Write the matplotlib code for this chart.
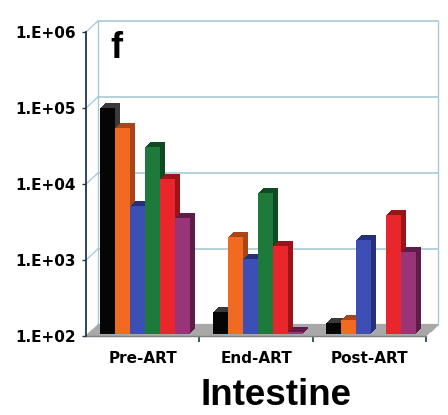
import numpy as np
import matplotlib
matplotlib.use("Agg")
import matplotlib.pyplot as plt
from matplotlib.transforms import offset_copy
from matplotlib.patches import ConnectionPatch

# Valores (escala log)
groups = ["Pre-ART", "End-ART", "Post-ART"]
black = [9.4e4, 1.95e2, 1.4e2]
orange = [5.1e4, 1.9e3, 1.55e2]
blue = [4.8e3, 9.7e2, 1.7e3]
green = [2.9e4, 7.2e3, np.nan]
red = [1.1e4, 1.45e3, 3.7e3]
purple = [3.4e3, 1.05e2, 1.2e3]

series = [black, orange, blue, green, red, purple]
face_colors = ["#050505", "#F26A21", "#3D4FB5", "#1D7A3A", "#E8262B", "#9A3478"]
side_colors = ["#3a3a3a", "#A8461A", "#24307A", "#0F4A22", "#9C1418", "#5E1C48"]

ytick_vals = [1e2, 1e3, 1e4, 1e5, 1e6]
ytick_labels = ["1.E+02", "1.E+03", "1.E+04", "1.E+05", "1.E+06"]

fig = plt.figure(figsize=(4.48, 4.15), dpi=100)
ax = fig.add_axes([86 / 448, 79 / 415, 340 / 448, 304 / 415])
ax.set_yscale("log")
ax.set_ylim(1e2, 1e6)
ax.set_xlim(-0.5, 2.5)
ax.patch.set_alpha(0)

grid_color = "#a9c9d9"
wall_dx, wall_dy = 12, 11
wall_t = offset_copy(ax.transData, fig=fig, x=wall_dx, y=wall_dy, units="dots")

# parede do fundo
for v in ytick_vals:
    ax.plot([-0.5, 2.5], [v, v], color=grid_color, lw=1.2, transform=wall_t,
            zorder=1, clip_on=False)
    con = ConnectionPatch(xyA=(-0.5, v), coordsA=ax.transData, xyB=(-0.5, v),
                          coordsB=wall_t, color=grid_color, lw=1.0, zorder=1)
    ax.add_artist(con)
ax.plot([-0.5, -0.5], [1e2, 1e6], color=grid_color, lw=1.0, transform=wall_t,
        zorder=1, clip_on=False)
ax.plot([2.5, 2.5], [1e2, 1e6], color=grid_color, lw=1.0, transform=wall_t,
        zorder=1, clip_on=False)

# piso
for k in range(0, wall_dx + 1):
    t = offset_copy(ax.transData, fig=fig, x=k, y=k * wall_dy / wall_dx, units="dots")
    ax.plot([-0.5, 2.5], [1e2, 1e2], color="#a8a8a8", lw=1.6, transform=t,
            zorder=2, solid_capstyle="butt", clip_on=False)
ax.plot([-0.5, 2.5], [1e2, 1e2], color="#808080", lw=1.0, zorder=2, clip_on=False)

# barras 3D
w = 0.132
x = np.arange(len(groups))
bar_dx, bar_dy = 2, 2
depth = 5
for i, vals in enumerate(series):
    xs = x + (i - 2.5) * w
    vals = np.array(vals)
    ok = ~np.isnan(vals)
    for k in range(depth, 0, -1):
        t = offset_copy(ax.transData, fig=fig, x=bar_dx + k, y=bar_dy + k, units="dots")
        ax.bar(xs[ok], vals[ok] - 1e2, bottom=1e2, width=w, color=side_colors[i],
               transform=t, zorder=3 + i * 0.1, linewidth=0, clip_on=False)
    t = offset_copy(ax.transData, fig=fig, x=bar_dx, y=bar_dy, units="dots")
    ax.bar(xs[ok], vals[ok] - 1e2, bottom=1e2, width=w, color=face_colors[i],
           transform=t, zorder=3.05 + i * 0.1, linewidth=0, clip_on=False)

# eixos
for s in ["top", "right", "bottom"]:
    ax.spines[s].set_visible(False)
ax.spines["left"].set_color("#1f3550")
ax.spines["left"].set_linewidth(1.3)
ax.set_yticks(ytick_vals)
ax.set_yticklabels(ytick_labels, fontsize=11, fontweight="bold")
ax.yaxis.set_minor_locator(matplotlib.ticker.NullLocator())
ax.tick_params(axis="y", length=3, width=1, color="#1f3550", pad=4)

ax.set_xticks(x)
ax.set_xticklabels(groups, fontsize=11, fontweight="bold")
ax.set_xticks([0.5, 1.5, 2.5], minor=True)
ax.tick_params(axis="x", which="major", length=0, pad=11)
ax.tick_params(axis="x", which="minor", length=4, width=1.2, color="#1f3550")

fig.text(110 / 448, 1 - 58 / 415, "f", fontsize=26, fontweight="bold",
         family="Liberation Sans", ha="left", va="baseline")
fig.text(276 / 448, 1 - 395 / 415, "Intestine", fontsize=26.5, fontweight="bold",
         family="Liberation Sans", ha="center", va="center")

fig.savefig("out.png", dpi=100, facecolor="white")
